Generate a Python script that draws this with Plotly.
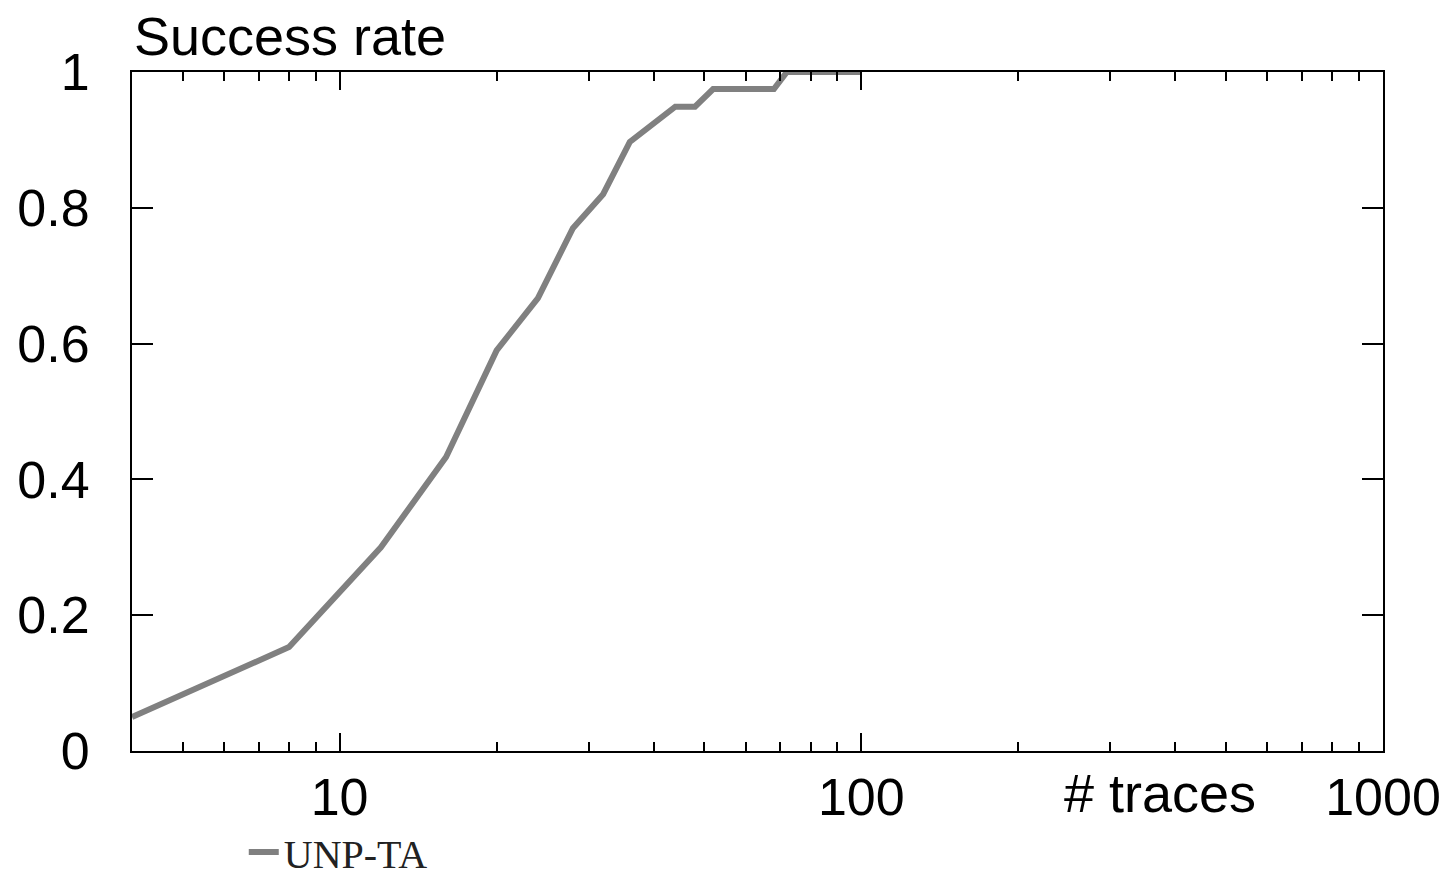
import plotly.graph_objects as go

traces_n = [4, 8, 12, 16, 20, 24, 28, 32, 36, 44, 48, 52, 68, 72, 100]
success = [0.05, 0.153, 0.30, 0.433, 0.59, 0.667, 0.77, 0.82, 0.897, 0.949, 0.949, 0.975, 0.975, 1.0, 1.0]
series_name = "UNP-TA"

x_major = [10, 100, 1000]
x_major_text = ["10", "100", "1000"]
x_minor = [m * d for d in (1, 10, 100) for m in range(2, 10)]
y_ticks = [0, 0.2, 0.4, 0.6, 0.8, 1]
y_text = ["0", "0.2", "0.4", "0.6", "0.8", "1"]

fig = go.Figure()
fig.add_trace(go.Scatter(x=traces_n, y=success, mode="lines", name=series_name,
                         line=dict(color="#808080", width=6)))

font_main = "Liberation Sans, Arial, sans-serif"
fig.update_layout(
    width=1451, height=882,
    margin=dict(l=132, r=68, t=72, b=131, autoexpand=False),
    paper_bgcolor="white", plot_bgcolor="white",
    showlegend=True,
    legend=dict(xref="container", yref="container", x=0.168, y=0.034,
                xanchor="left", yanchor="middle",
                borderwidth=0, tracegroupgap=0,
                font=dict(family="Liberation Serif, Times New Roman, serif", size=40, color="#222"),
                bgcolor="rgba(0,0,0,0)"),
    xaxis=dict(type="log", range=[0.60206, 3], showgrid=False, zeroline=False,
               showline=True, linecolor="black", linewidth=2, mirror="ticks",
               ticks="inside", ticklen=18, tickwidth=2, tickcolor="black",
               tickvals=x_major, ticktext=x_major_text,
               tickfont=dict(family=font_main, size=52, color="black"),
               minor=dict(tickvals=x_minor, ticks="inside", ticklen=9, tickwidth=1.5, tickcolor="black")),
    yaxis=dict(range=[0, 1], showgrid=False, zeroline=False,
               showline=True, linecolor="black", linewidth=2, mirror="ticks",
               ticks="inside", ticklen=21, tickwidth=2, tickcolor="black",
               tickvals=y_ticks, ticktext=y_text,
               tickfont=dict(family=font_main, size=52, color="black"),
               ticklabelstandoff=30),
)
fig.add_annotation(text="Success rate", xref="paper", yref="paper", x=0, y=1.0,
                   xanchor="left", yanchor="bottom", yshift=4, showarrow=False,
                   font=dict(family=font_main, size=54, color="black"))
fig.add_annotation(text="# traces", xref="paper", yref="paper", x=0.822, y=-0.062,
                   xanchor="center", yanchor="middle", showarrow=False,
                   font=dict(family=font_main, size=54, color="black"))
fig.write_html("out.html")
